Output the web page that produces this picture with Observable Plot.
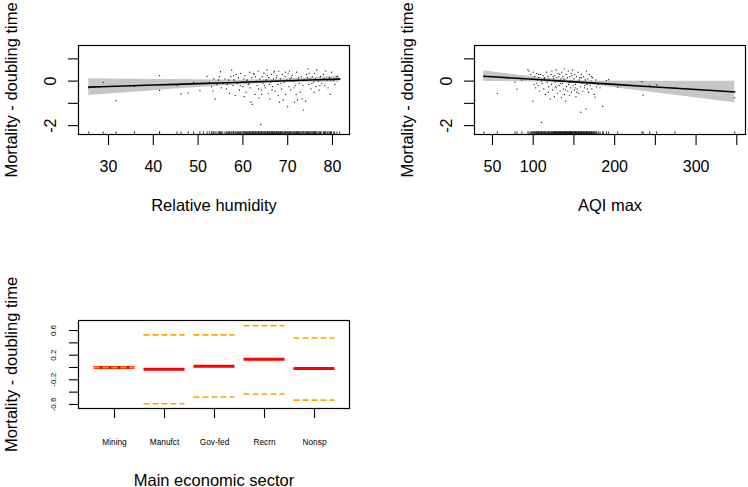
<!DOCTYPE html>
<html><head><meta charset="utf-8">
<script src="https://cdn.jsdelivr.net/npm/d3@7"></script>
<script src="https://cdn.jsdelivr.net/npm/@observablehq/plot@0.6"></script>
<style>
body{margin:0;background:#fff;}
#wrap{position:relative;width:748px;height:487px;overflow:hidden;background:#fff;}
.p{position:absolute;}
</style></head><body><div id="wrap"></div>
<script>
const yTitle = "Mortality - doubling time";

// ---- Panel 1: Relative humidity (partial residuals) ----
const rhX = [25.6,28.8,31.7,35.8,41.4,41.4,45.3,46.2,47.8,49,50.4,51.2,52,52.5,53,53.5,53.8,54.2,54.6,55,55.2,55.5,56,56.3,56.8,57,57.3,57.5,57.8,58,58.3,58.5,58.8,59,59.2,59.5,59.8,60,60.2,60.5,60.7,61,61.2,61.5,61.6,61.8,62,62.1,62.3,62.5,62.7,63,63.2,63.4,63.6,63.8,64,64.1,64.3,64.5,64.7,65,65.2,65.4,65.6,65.8,66,66.2,66.4,66.6,66.8,67,67.2,67.4,67.6,67.8,68,68.2,68.4,68.6,68.8,69,69.2,69.4,69.6,69.8,70,70.1,70.3,70.5,70.7,71,71.2,71.5,71.7,72,72.2,72.4,72.6,72.8,73,73.2,73.5,73.7,74,74.2,74.5,74.7,75,75.2,75.5,75.8,76,76.3,76.5,76.8,77,77.3,77.6,78,78.3,78.5,78.8,79,79.3,79.5,79.8,80.2,80.5,81,81.6,60.8,61.4,62.8,63.5,64.8,65.5,66.5,67.5,68.5,69.5,70.8,71.4,72.3,73.4,74.4,75.4,76.2,77.2,78.2,79.6,56.5,57.9,59.4,54.8,53.3,60.3,64.2,67.9,71.9,75.9,74.8,62.4,66.9,70.4,65.9];
const rhY = [-0.3,-0.06,-0.88,-0.24,0.25,-0.42,-0.2,-0.58,-0.54,-0.06,-0.43,-0.1,0.21,-0.05,-0.25,0.1,-0.8,-0.15,0.05,0.42,-0.3,-0.1,0.1,-0.35,0.05,-0.55,0.2,0.5,-0.2,0.05,-0.65,0.3,-0.1,0.15,-0.4,0.35,-0.05,-0.25,0.1,0.25,-0.5,0.05,-0.15,0.4,-0.3,-0.95,0.15,-1.05,-0.05,0.3,-0.6,0,-0.2,0.45,-0.75,0.1,-1.95,-0.4,0.2,-0.1,0.35,-0.3,0.05,0.5,-0.55,0.15,-0.8,-0.05,0.3,-0.25,0.1,0.45,-0.45,0,0.25,-0.15,0.45,-0.95,0.1,-0.35,0.3,-0.85,-0.05,0.2,-0.6,0.05,-1.15,0.35,-0.25,0.1,-0.4,0.25,0,-0.95,-0.2,0.4,-0.85,0.15,-0.1,-0.5,0.2,-0.8,-1.3,0.05,-0.9,0.3,0.55,-0.15,0.1,-0.35,0.2,-0.05,0.35,-0.25,0.5,0,-0.4,0.2,-0.1,0.3,-0.2,0.45,0.05,-0.3,0.15,-0.6,0.4,0.05,-0.15,0.2,0.1,0,-0.1,0.2,-0.35,-0.2,0.25,-0.4,0.15,-0.1,0.4,0.15,-0.3,0.05,-0.2,0.15,-0.1,0.1,-0.2,0.1,0.05,-0.15,0.25,-0.2,0.2,-0.45,-0.7,-0.6,-0.65,-0.6,-0.5,0.35,0.35,0.4,0.45,-0.15];
const rhFitX = [25.6,30,35,40,45,50,55,60,65,70,75,81.6];
const rhFit  = [-0.27,-0.243,-0.211,-0.178,-0.146,-0.114,-0.082,-0.049,-0.017,0.015,0.048,0.09];
const rhLo   = [-0.65,-0.58,-0.51,-0.43,-0.36,-0.29,-0.22,-0.15,-0.096,-0.062,-0.048,-0.05];
const rhHi   = [0.105,0.096,0.086,0.077,0.068,0.06,0.054,0.053,0.062,0.092,0.144,0.23];
const rhTicks = [30,40,50,60,70,80];
const rhTickLabels = ["30","40","50","60","70","80"];

// ---- Panel 2: AQI max ----
const aqiX = [39.4,56,77.5,80,86,93.4,95,97,98,99.5,100,101,102,103,104,105,106,107,108,109,110,110.5,111,112,113,114,115,116,117,118,119,120,121,122,122.5,123,124,125,126,126.5,127,128,128.5,129,130,130.5,131,132,132.5,133,134,134.5,135,136,136.5,137,138,138.5,139,140,140.5,141,142,142.5,143,144,144.5,145,146,146.5,147,148,148.5,149,150,150.5,151,152,152.5,153,154,155,155.5,156,157,158,158.5,159,160,161,162,163,164,165,165.5,166,167,168,169,170,171,172,173,174,175,176,177,178,180,182,185.3,186,190,192.6,203.7,233.6,235,243,251.5,274,347.5,118.5,124.5,133.5,137.5,143.5,147.5,151.5,156.5,161.5,166.5,171.5,127.5,131.5,139.5,145.5,153.5,159.5,163.5,169.5,113.5,106.5,104.5];
const aqiY = [0.2,-0.55,-0.05,-0.36,0.05,0.52,0.45,0.3,0.1,-0.9,0.4,-0.15,0.2,-0.3,0.35,0.05,-0.2,0.15,-0.45,0.3,-1.86,0,-0.1,0.25,-0.35,0.1,-0.6,0.4,-0.05,0.2,-0.25,0.05,-0.8,0.3,-0.15,0.45,-0.4,0.1,-0.7,0.25,-0.05,0.5,-0.3,0.15,-0.55,0.35,0,-0.2,0.3,-0.45,0.1,-0.75,0.4,-0.1,0.2,-0.35,0.55,-0.6,0.05,-0.9,0.3,-0.25,0.15,-0.45,0.45,-0.05,-0.65,0.2,-0.3,0.35,-0.5,0,0.5,-0.2,0.1,-0.4,0.3,-0.15,-0.7,0.2,-0.35,0.4,-0.05,-0.55,0.15,-0.25,-1.4,0.3,-0.1,-0.45,0.2,-0.3,0.05,-1.25,0.45,-0.15,0.1,-0.5,0.3,-0.2,0,-0.35,0.15,-0.1,-0.6,-0.72,0.05,-0.25,-0.15,-0.3,-1.14,-0.1,0.02,0.06,-0.27,-0.03,-0.64,-0.21,-0.17,-0.3,-0.75,-0.5,0.2,-0.1,0.1,-0.15,0.25,-0.3,0.05,-0.05,-0.35,0.2,-0.25,0.2,-0.4,0,-0.5,0.15,-0.2,-0.1,0.15,0.3,-0.1];
const aqiFitX = [39.4,60,80,100,120,140,160,180,200,240,280,320,347.5];
const aqiFit  = [0.22,0.173,0.127,0.081,0.035,-0.011,-0.057,-0.103,-0.149,-0.241,-0.333,-0.425,-0.489];
const aqiLo   = [-0.02,-0.02,-0.025,-0.032,-0.048,-0.076,-0.132,-0.203,-0.301,-0.48,-0.661,-0.844,-0.969];
const aqiHi   = [0.46,0.368,0.279,0.194,0.118,0.054,0.018,-0.003,0.003,-0.002,-0.005,-0.006,-0.009];
const aqiTicks = [50,100,150,200,250,300,350];
const aqiTickLabels = ["50","100","","200","","300",""];

// ---- Panel 3: Main economic sector ----
const sectors = ["Mining","Manufct","Gov-fed","Recrn","Nonsp"];
const sectorEffect = [0,-0.027,0.02,0.135,-0.016];
const sectorUpper  = [0,0.53,0.53,0.68,0.48];
const sectorLower  = [0,-0.59,-0.48,-0.43,-0.53];
const sectorYTicks = [-0.6,-0.4,-0.2,0,0.2,0.4,0.6];
const sectorYLabels = ["-0.6","","-0.2","","0.2","","0.6"];

const topYTicks = [-2,-1,0,1];
const topYLabels = ["-2","","0",""];

const FONT = "'Liberation Sans', Arial, Helvetica, sans-serif";
const wrap = document.getElementById("wrap");
function place(svg, left, top) {
  const d = document.createElement("div");
  d.className = "p"; d.style.left = left + "px"; d.style.top = top + "px";
  d.appendChild(svg); wrap.appendChild(d);
}

function topPanel({xs, ys, fx, fit, lo, hi, xDomain, xTicks, xLabels, title, mLeft, mRight}) {
  const pts = xs.map((x, i) => ({x, y: ys[i]}));
  const band = fx.map((x, i) => ({x, fit: fit[i], lo: lo[i], hi: hi[i]}));
  const yDom = [-2.4, 1.6];
  const yLab = topYTicks.map((v, i) => ({v, t: topYLabels[i]})).filter(d => d.t);
  return Plot.plot({
    width: 374, height: 240,
    marginLeft: mLeft, marginRight: mRight, marginTop: 45, marginBottom: 106,
    style: {fontFamily: FONT, fontSize: "16px", background: "white", color: "black", overflow: "visible"},
    x: {domain: xDomain, axis: null},
    y: {domain: yDom, axis: null},
    marks: [
      Plot.areaY(band, {x: "x", y1: "lo", y2: "hi", fill: "#c6c6c6"}),
      Plot.dot(pts, {x: "x", y: "y", r: 0.65, fill: "#111", stroke: null}),
      Plot.line(band, {x: "x", y: "fit", stroke: "black", strokeWidth: 1.6}),
      Plot.ruleX(xs, {x: d => d, y1: yDom[0], y2: yDom[0] + 0.12, stroke: "#111", strokeWidth: 0.8}),
      Plot.frame({stroke: "black", strokeWidth: 1.2}),
      Plot.axisX({ticks: xTicks, tickFormat: (d) => xLabels[xTicks.indexOf(d)], tickSize: 11, tickPadding: 15, fontSize: 16, label: null, strokeWidth: 1.1}),
      Plot.axisY({ticks: topYTicks, tickFormat: () => "", tickSize: 10, label: null, strokeWidth: 1.1}),
      Plot.text(yLab, {y: "v", text: "t", frameAnchor: "left", textAnchor: "middle", rotate: -90, dx: -23, lineAnchor: "bottom", fontSize: 16}),
      Plot.text([title], {text: d => d, frameAnchor: "bottom", textAnchor: "middle", dy: 76, lineAnchor: "bottom", fontSize: 16.5}),
      Plot.text([yTitle], {text: d => d, frameAnchor: "left", textAnchor: "middle", rotate: -90, dx: -62, lineAnchor: "bottom", fontSize: 16.5})
    ]
  });
}

place(topPanel({xs: rhX, ys: rhY, fx: rhFitX, fit: rhFit, lo: rhLo, hi: rhHi,
  xDomain: [23.3, 83.8], xTicks: rhTicks, xLabels: rhTickLabels, title: "Relative humidity", mLeft: 78, mRight: 25}), 0, 0);
place(topPanel({xs: aqiX, ys: aqiY, fx: aqiFitX, fit: aqiFit, lo: aqiLo, hi: aqiHi,
  xDomain: [27.9, 360.7], xTicks: aqiTicks, xLabels: aqiTickLabels, title: "AQI max", mLeft: 100, mRight: 3}), 374, 0);

// bottom panel
const rows = sectors.map((s, i) => ({i: i + 1, s, eff: sectorEffect[i], hi: sectorUpper[i], lo: sectorLower[i]}));
const bYLab = sectorYTicks.map((v, i) => ({v, t: sectorYLabels[i]})).filter(d => d.t);
const half = 0.41;
const bottom = Plot.plot({
  width: 374, height: 247,
  marginLeft: 78, marginRight: 25, marginTop: 80, marginBottom: 79,
  style: {fontFamily: FONT, fontSize: "8px", background: "white", color: "black", overflow: "visible"},
  x: {domain: [0.28, 5.7], axis: null},
  y: {domain: [-0.666, 0.763], axis: null},
  marks: [
    Plot.ruleY(rows, {y: "eff", x1: d => d.i - half, x2: d => d.i + half, stroke: "#ff0000", strokeWidth: 3}),
    Plot.ruleY(rows, {y: "hi", x1: d => d.i - half, x2: d => d.i + half, stroke: "#ffa500", strokeWidth: 1.6, strokeDasharray: "6,3"}),
    Plot.ruleY(rows, {y: "lo", x1: d => d.i - half, x2: d => d.i + half, stroke: "#ffa500", strokeWidth: 1.6, strokeDasharray: "6,3"}),
    Plot.frame({stroke: "black", strokeWidth: 1.2}),
    Plot.axisX({ticks: rows.map(d => d.i), tickFormat: d => sectors[d - 1], tickSize: 10, tickPadding: 21, fontSize: 8.3, label: null, strokeWidth: 1.1}),
    Plot.axisY({ticks: sectorYTicks, tickFormat: () => "", tickSize: 9, label: null, strokeWidth: 1.1}),
    Plot.text(bYLab, {y: "v", text: "t", frameAnchor: "left", textAnchor: "middle", rotate: -90, dx: -23, lineAnchor: "bottom", fontSize: 8}),
    Plot.text(["Main economic sector"], {text: d => d, frameAnchor: "bottom", textAnchor: "middle", dy: 77, lineAnchor: "bottom", fontSize: 16.5}),
    Plot.text([yTitle], {text: d => d, frameAnchor: "left", textAnchor: "middle", rotate: -90, dx: -62, lineAnchor: "bottom", fontSize: 16.5})
  ]
});
place(bottom, 0, 240);
</script>
</body></html>
